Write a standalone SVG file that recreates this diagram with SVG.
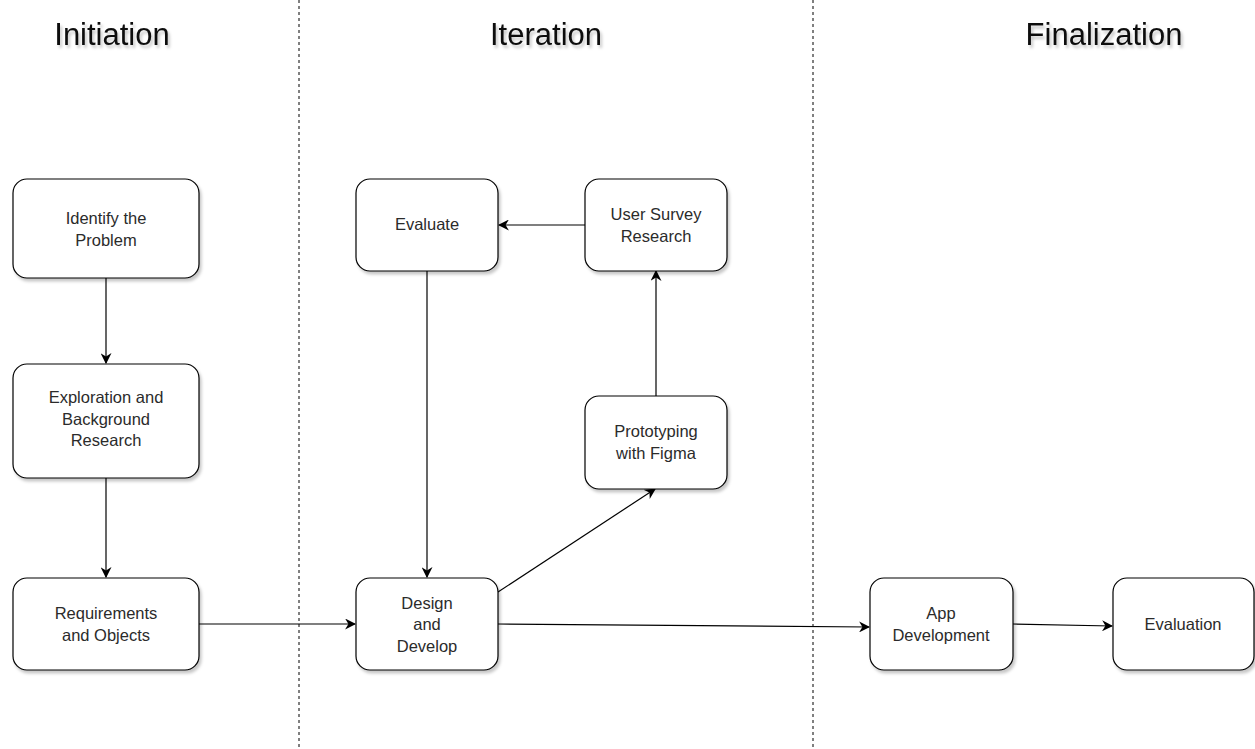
<svg xmlns="http://www.w3.org/2000/svg" width="1255" height="749" viewBox="0 0 1255 749">
  <style>
    .box { fill: #ffffff; stroke: #000000; stroke-width: 1.2; filter: url(#shadow); }
    .label { font-family: "Liberation Sans", Arial, sans-serif; font-size: 16.5px; fill: #2b2b2b; text-anchor: middle; }
    .title { font-family: "Liberation Sans", Arial, sans-serif; font-size: 31px; fill: #111111; text-anchor: middle; filter: url(#shadow); }
    .lane { stroke: #000000; stroke-width: 1; stroke-dasharray: 3 3; }
    .edge { fill: none; stroke: #000000; stroke-width: 1.2; marker-end: url(#arrow); }
  </style>
  <defs>
    <filter id="shadow" x="-10%" y="-10%" width="130%" height="140%">
      <feDropShadow dx="2" dy="3" stdDeviation="1.8" flood-color="#000000" flood-opacity="0.22"/>
    </filter>
    <marker id="arrow" viewBox="0 0 10 10" refX="9" refY="5" markerWidth="11" markerHeight="11" markerUnits="userSpaceOnUse" orient="auto">
      <path d="M0,0 L10,5 L0,10 L3,5 Z" fill="#000000"/>
    </marker>
  </defs>
  <rect width="1255" height="749" fill="#ffffff"/>

  <!-- phase separators -->
  <g id="lanes">
    <line class="lane" x1="299" y1="0" x2="299" y2="749"/>
    <line class="lane" x1="813" y1="0" x2="813" y2="749"/>
  </g>

  <!-- phase headings -->
  <g id="titles">
    <text class="title" x="112" y="45">Initiation</text>
    <text class="title" x="546" y="45">Iteration</text>
    <text class="title" x="1104" y="45">Finalization</text>
  </g>

  <g id="connectors">
    <path class="edge" d="M106,278 L106,363"/>
    <path class="edge" d="M106,478 L106,577"/>
    <path class="edge" d="M199,624 L355,624"/>
    <path class="edge" d="M427,271 L427,577"/>
    <path class="edge" d="M498,592 L655,489"/>
    <path class="edge" d="M656,396 L656,271"/>
    <path class="edge" d="M585,225 L499,225"/>
    <path class="edge" d="M498,624 L869,627"/>
    <path class="edge" d="M1013,624 L1112,626"/>
  </g>

  <g id="identify">
    <rect class="box" x="13" y="179" width="186" height="99" rx="14"/>
    <text class="label" x="106" y="224">Identify the</text>
    <text class="label" x="106" y="246">Problem</text>
  </g>
  <g id="exploration">
    <rect class="box" x="13" y="364" width="186" height="114" rx="14"/>
    <text class="label" x="106" y="403">Exploration and</text>
    <text class="label" x="106" y="425">Background</text>
    <text class="label" x="106" y="446">Research</text>
  </g>
  <g id="requirements">
    <rect class="box" x="13" y="578" width="186" height="92" rx="14"/>
    <text class="label" x="106" y="619">Requirements</text>
    <text class="label" x="106" y="641">and Objects</text>
  </g>
  <g id="evaluate">
    <rect class="box" x="356" y="179" width="142" height="92" rx="14"/>
    <text class="label" x="427" y="230">Evaluate</text>
  </g>
  <g id="user-survey">
    <rect class="box" x="585" y="179" width="142" height="92" rx="14"/>
    <text class="label" x="656" y="220">User Survey</text>
    <text class="label" x="656" y="242">Research</text>
  </g>
  <g id="prototyping">
    <rect class="box" x="585" y="396" width="142" height="93" rx="14"/>
    <text class="label" x="656" y="437">Prototyping</text>
    <text class="label" x="656" y="459">with Figma</text>
  </g>
  <g id="design">
    <rect class="box" x="356" y="578" width="142" height="92" rx="14"/>
    <text class="label" x="427" y="609">Design</text>
    <text class="label" x="427" y="630">and</text>
    <text class="label" x="427" y="652">Develop</text>
  </g>
  <g id="app-development">
    <rect class="box" x="870" y="578" width="143" height="92" rx="14"/>
    <text class="label" x="941" y="619">App</text>
    <text class="label" x="941" y="641">Development</text>
  </g>
  <g id="evaluation">
    <rect class="box" x="1113" y="578" width="141" height="92" rx="14"/>
    <text class="label" x="1183" y="630">Evaluation</text>
  </g>
</svg>
